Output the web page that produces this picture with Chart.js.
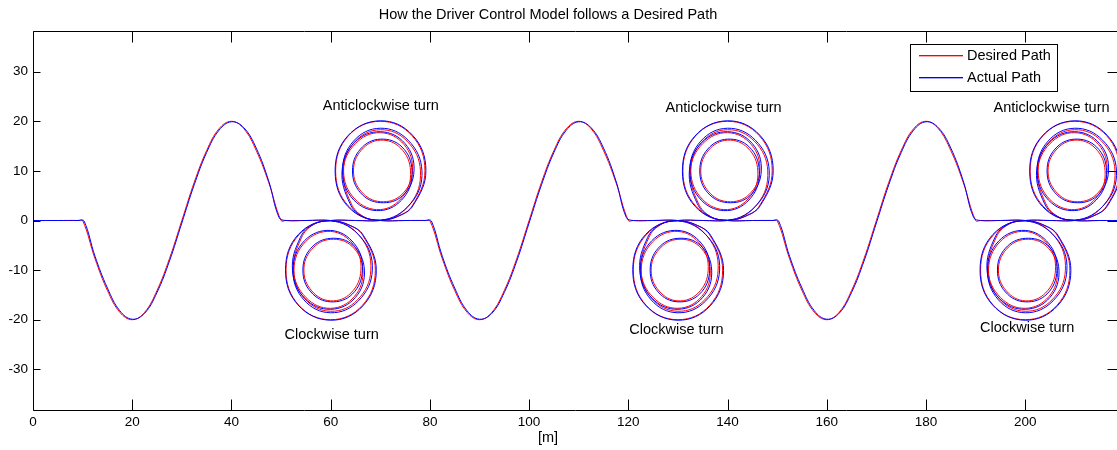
<!DOCTYPE html>
<html>
<head>
<meta charset="utf-8">
<script src="https://cdn.jsdelivr.net/npm/chart.js@4.4.1/dist/chart.umd.min.js"></script>
<style>
  html, body { margin: 0; padding: 0; background: #fff; overflow: hidden; }
  #wrap { width: 1117px; height: 450px; position: relative; }
</style>
</head>
<body>
<div id="wrap"><canvas id="pathChart"></canvas></div>
<script>
// axis ranges and ticks
const xTicks = [0, 20, 40, 60, 80, 100, 120, 140, 160, 180, 200];
const yTicks = [-30, -20, -10, 0, 10, 20, 30];
const xRange = [0, 218.5];
const yRange = [-38.2, 38.2];

// turn annotations
const turnLabels = ['Anticlockwise turn', 'Clockwise turn', 'Anticlockwise turn', 'Clockwise turn', 'Anticlockwise turn', 'Clockwise turn'];
const turnLabelX = [70.1, 60.2, 139.2, 129.7, 205.3, 200.4];
const turnLabelY = [23.1, -23.1, 22.7, -22.1, 22.7, -21.7];

// desired path [x, y] in metres
const desiredLead = [[0,0],[5,0],[9,0],[10,0]];
const desiredWave1 = [[12.5,-7.7],[15,-14.1],[17.5,-18.5],[20,-20],[22.5,-18.5],[25,-14.1],[27.5,-7.7],[30,0],[32.5,7.7],[35,14.1],[37.5,18.5],[40,20],[42.5,18.5],[45,14.1],[47.5,7.7],[50,0],[51,0],[55,0]];
const desiredTurns1 = [
  [60,0],[63.4,-0.8],
  [66.4,-2.9],[69,-10],[66.4,-17.1],[60,-20],[53.6,-17.1],[51,-10],[53.6,-2.9],[60,0],
  [66,-3.3],[68.1,-10],[65.4,-16],[60,-18.3],[54.8,-15.8],[52.6,-10],[54.9,-4.3],[60,-2.2],
  [64.6,-4.9],[66.1,-10],[64.1,-14.6],[60,-16.2],[56.2,-14.2],[54.6,-10],[56.2,-5.8],[60,-3.8],
  [64.3,-5.2],[66.5,-10],[64.8,-15.3],[60,-17.7],[55,-15.5],[52.5,-10],[54.1,-3.5],[56.6,-0.8],[60,0],
  [65,0],
  [70,0],[73.4,0.8],
  [76.4,2.9],[79,10],[76.4,17.1],[70,20],[63.6,17.1],[61,10],[63.6,2.9],[70,0],
  [76,3.3],[78.1,10],[75.4,16],[70,18.3],[64.8,15.8],[62.6,10],[64.9,4.3],[70,2.2],
  [74.6,4.9],[76.1,10],[74.1,14.6],[70,16.2],[66.2,14.2],[64.6,10],[66.2,5.8],[70,3.8],
  [74.3,5.2],[76.5,10],[74.8,15.3],[70,17.7],[65,15.5],[62.5,10],[64.1,3.5],[66.6,0.8],[70,0],
  [75,0],[79,0],[80,0]
];
const desiredWave2 = [[82.5,-7.7],[85,-14.1],[87.5,-18.5],[90,-20],[92.5,-18.5],[95,-14.1],[97.5,-7.7],[100,0],[102.5,7.7],[105,14.1],[107.5,18.5],[110,20],[112.5,18.5],[115,14.1],[117.5,7.7],[120,0],[121,0],[125,0]];
const desiredTurns2 = [
  [130,0],[133.4,-0.8],
  [136.4,-2.9],[139,-10],[136.4,-17.1],[130,-20],[123.6,-17.1],[121,-10],[123.6,-2.9],[130,0],
  [136,-3.3],[138.1,-10],[135.4,-16],[130,-18.3],[124.8,-15.8],[122.6,-10],[124.9,-4.3],[130,-2.2],
  [134.6,-4.9],[136.1,-10],[134.1,-14.6],[130,-16.2],[126.2,-14.2],[124.6,-10],[126.2,-5.8],[130,-3.8],
  [134.3,-5.2],[136.5,-10],[134.8,-15.3],[130,-17.7],[125,-15.5],[122.5,-10],[124.1,-3.5],[126.6,-0.8],[130,0],
  [135,0],
  [140,0],[143.4,0.8],
  [146.4,2.9],[149,10],[146.4,17.1],[140,20],[133.6,17.1],[131,10],[133.6,2.9],[140,0],
  [146,3.3],[148.1,10],[145.4,16],[140,18.3],[134.8,15.8],[132.6,10],[134.9,4.3],[140,2.2],
  [144.6,4.9],[146.1,10],[144.1,14.6],[140,16.2],[136.2,14.2],[134.6,10],[136.2,5.8],[140,3.8],
  [144.3,5.2],[146.5,10],[144.8,15.3],[140,17.7],[135,15.5],[132.5,10],[134.1,3.5],[136.6,0.8],[140,0],
  [145,0],[149,0],[150,0]
];
const desiredWave3 = [[152.5,-7.7],[155,-14.1],[157.5,-18.5],[160,-20],[162.5,-18.5],[165,-14.1],[167.5,-7.7],[170,0],[172.5,7.7],[175,14.1],[177.5,18.5],[180,20],[182.5,18.5],[185,14.1],[187.5,7.7],[190,0],[191,0],[195,0]];
const desiredTurns3 = [
  [200,0],[203.4,-0.8],
  [206.4,-2.9],[209,-10],[206.4,-17.1],[200,-20],[193.6,-17.1],[191,-10],[193.6,-2.9],[200,0],
  [206,-3.3],[208.1,-10],[205.4,-16],[200,-18.3],[194.8,-15.8],[192.6,-10],[194.9,-4.3],[200,-2.2],
  [204.6,-4.9],[206.1,-10],[204.1,-14.6],[200,-16.2],[196.2,-14.2],[194.6,-10],[196.2,-5.8],[200,-3.8],
  [204.3,-5.2],[206.5,-10],[204.8,-15.3],[200,-17.7],[195,-15.5],[192.5,-10],[194.1,-3.5],[196.6,-0.8],[200,0],
  [205,0],
  [210,0],[213.4,0.8],
  [216.4,2.9],[219,10],[216.4,17.1],[210,20],[203.6,17.1],[201,10],[203.6,2.9],[210,0],
  [216,3.3],[218.1,10],[215.4,16],[210,18.3],[204.8,15.8],[202.6,10],[204.9,4.3],[210,2.2],
  [214.6,4.9],[216.1,10],[214.1,14.6],[210,16.2],[206.2,14.2],[204.6,10],[206.2,5.8],[210,3.8],
  [214.3,5.2],[216.5,10],[214.8,15.3],[210,17.7],[205,15.5],[202.5,10],[204.1,3.5],[206.6,0.8],[210,0],
  [215,0],[220,0]
];

// actual path followed by the driver model
const actualLead = [[0,0],[5,0],[9.3,0],[10.3,-0.1]];
const actualWave1 = [[12.5,-7.2],[15,-13.6],[17.5,-18.2],[20,-19.9],[22.5,-18.7],[25,-14.5],[27.5,-8.2],[30,-0.5],[32.5,7.2],[35,13.7],[37.5,18.2],[40,19.9],[42.5,18.7],[45,14.6],[47.5,8],[49.6,0.6],[51,0],[55,0]];
const actualTurns1 = [
  [60,0],[63.5,-0.8],
  [66.6,-3],[69.2,-10.1],[66.5,-17.2],[60,-20.1],[53.4,-17],[50.9,-9.9],[53.5,-2.8],[60,-0.1],
  [66.2,-3.5],[68.4,-10],[65.6,-16.2],[60,-18.6],[54.6,-16],[52.4,-10],[54.7,-4.1],[60,-2],
  [64.8,-4.7],[66.4,-10],[64.4,-14.8],[60,-16.4],[56,-14.4],[54.4,-10],[56,-5.6],[60,-3.6],
  [64.5,-5],[66.8,-10],[65,-15.5],[60,-17.9],[54.8,-15.7],[52.3,-10],[53.9,-3.4],[56.5,-0.8],[60,0],
  [65,0],
  [70,0],[73.5,0.8],
  [76.6,3],[79.2,10.1],[76.5,17.2],[70,20.1],[63.4,17],[60.9,9.9],[63.5,2.8],[70,0.1],
  [76.2,3.5],[78.4,10],[75.6,16.2],[70,18.6],[64.6,16],[62.4,10],[64.7,4.1],[70,2],
  [74.8,4.7],[76.4,10],[74.4,14.8],[70,16.4],[66,14.4],[64.4,10],[66,5.6],[70,3.6],
  [74.5,5],[76.8,10],[75,15.5],[70,17.9],[64.8,15.7],[62.3,10],[63.9,3.4],[66.5,0.8],[70,0],
  [75,0],[79.3,0],[80.3,-0.1]
];
const actualWave2 = [[82.5,-7.2],[85,-13.6],[87.5,-18.2],[90,-19.9],[92.5,-18.7],[95,-14.5],[97.5,-8.2],[100,-0.5],[102.5,7.2],[105,13.7],[107.5,18.2],[110,19.9],[112.5,18.7],[115,14.6],[117.5,8],[119.6,0.6],[121,0],[125,0]];
const actualTurns2 = [
  [130,0],[133.5,-0.8],
  [136.6,-3],[139.2,-10.1],[136.5,-17.2],[130,-20.1],[123.4,-17],[120.9,-9.9],[123.5,-2.8],[130,-0.1],
  [136.2,-3.5],[138.4,-10],[135.6,-16.2],[130,-18.6],[124.6,-16],[122.4,-10],[124.7,-4.1],[130,-2],
  [134.8,-4.7],[136.4,-10],[134.4,-14.8],[130,-16.4],[126,-14.4],[124.4,-10],[126,-5.6],[130,-3.6],
  [134.5,-5],[136.8,-10],[135,-15.5],[130,-17.9],[124.8,-15.7],[122.3,-10],[123.9,-3.4],[126.5,-0.8],[130,0],
  [135,0],
  [140,0],[143.5,0.8],
  [146.6,3],[149.2,10.1],[146.5,17.2],[140,20.1],[133.4,17],[130.9,9.9],[133.5,2.8],[140,0.1],
  [146.2,3.5],[148.4,10],[145.6,16.2],[140,18.6],[134.6,16],[132.4,10],[134.7,4.1],[140,2],
  [144.8,4.7],[146.4,10],[144.4,14.8],[140,16.4],[136,14.4],[134.4,10],[136,5.6],[140,3.6],
  [144.5,5],[146.8,10],[145,15.5],[140,17.9],[134.8,15.7],[132.3,10],[133.9,3.4],[136.5,0.8],[140,0],
  [145,0],[149.3,0],[150.3,-0.1]
];
const actualWave3 = [[152.5,-7.2],[155,-13.6],[157.5,-18.2],[160,-19.9],[162.5,-18.7],[165,-14.5],[167.5,-8.2],[170,-0.5],[172.5,7.2],[175,13.7],[177.5,18.2],[180,19.9],[182.5,18.7],[185,14.6],[187.5,8],[189.6,0.6],[191,0],[195,0]];
const actualTurns3 = [
  [200,0],[203.5,-0.8],
  [206.6,-3],[209.2,-10.1],[206.5,-17.2],[200,-20.1],[193.4,-17],[190.9,-9.9],[193.5,-2.8],[200,-0.1],
  [206.2,-3.5],[208.4,-10],[205.6,-16.2],[200,-18.6],[194.6,-16],[192.4,-10],[194.7,-4.1],[200,-2],
  [204.8,-4.7],[206.4,-10],[204.4,-14.8],[200,-16.4],[196,-14.4],[194.4,-10],[196,-5.6],[200,-3.6],
  [204.5,-5],[206.8,-10],[205,-15.5],[200,-17.9],[194.8,-15.7],[192.3,-10],[193.9,-3.4],[196.5,-0.8],[200,0],
  [205,0],
  [210,0],[213.5,0.8],
  [216.6,3],[219.2,10.1],[216.5,17.2],[210,20.1],[203.4,17],[200.9,9.9],[203.5,2.8],[210,0.1],
  [216.2,3.5],[218.4,10],[215.6,16.2],[210,18.6],[204.6,16],[202.4,10],[204.7,4.1],[210,2],
  [214.8,4.7],[216.4,10],[214.4,14.8],[210,16.4],[206,14.4],[204.4,10],[206,5.6],[210,3.6],
  [214.5,5],[216.8,10],[215,15.5],[210,17.9],[204.8,15.7],[202.3,10],[203.9,3.4],[206.5,0.8],[210,0],
  [215,0],[220,0]
];

const seriesNames = ['Desired Path', 'Actual Path'];
const seriesColors = ['#ff0000', '#0000ff'];

function toPoints(parts) {
    return [].concat(...parts).map(p => ({ x: p[0], y: p[1] }));
}

const desiredPath = toPoints([desiredLead, desiredWave1, desiredTurns1, desiredWave2, desiredTurns2, desiredWave3, desiredTurns3]);
const actualPath = toPoints([actualLead, actualWave1, actualTurns1, actualWave2, actualTurns2, actualWave3, actualTurns3]);

const FONT = '"Liberation Sans", Arial, sans-serif';

// matlab style frame, inward ticks, title, labels and legend
const matlabFrame = {
    id: 'matlabFrame',
    afterDraw(chart) {
        const ctx = chart.ctx;
        const a = chart.chartArea;
        const xs = chart.scales.x, ys = chart.scales.y;
        const L = Math.round(a.left) + 0.5, T = Math.round(a.top) + 0.5;
        const B = Math.round(a.bottom) + 0.5, R = Math.round(a.right) + 0.5;
        ctx.save();
        ctx.strokeStyle = '#000';
        ctx.lineWidth = 1;
        ctx.beginPath();
        ctx.moveTo(R, T); ctx.lineTo(L, T); ctx.lineTo(L, B); ctx.lineTo(R, B); ctx.lineTo(R, T);
        xTicks.forEach(v => {
            const px = Math.round(xs.getPixelForValue(v)) + 0.5;
            ctx.moveTo(px, B); ctx.lineTo(px, B - 11);
            ctx.moveTo(px, T); ctx.lineTo(px, T + 11);
        });
        yTicks.forEach(v => {
            const py = Math.round(ys.getPixelForValue(v)) + 0.5;
            ctx.moveTo(L, py); ctx.lineTo(L + 7, py);
            ctx.moveTo(R, py); ctx.lineTo(R - 10, py);
        });
        ctx.stroke();

        ctx.fillStyle = '#000';
        ctx.font = '14.5px ' + FONT;
        ctx.textAlign = 'center';
        ctx.textBaseline = 'middle';
        ctx.fillText('How the Driver Control Model follows a Desired Path', 548, 15);
        ctx.fillText('[m]', 548, 438);
        turnLabels.forEach((t, i) => {
            ctx.fillText(t, xs.getPixelForValue(turnLabelX[i]), ys.getPixelForValue(turnLabelY[i]));
        });

        // legend box
        ctx.fillStyle = '#fff';
        ctx.fillRect(910.5, 44.5, 147, 47);
        ctx.strokeRect(910.5, 44.5, 147, 47);
        ctx.textAlign = 'left';
        seriesNames.forEach((n, i) => {
            const ly = 55 + i * 22;
            ctx.fillStyle = seriesColors[i];
            ctx.fillRect(919, ly, 44, 1);
            ctx.globalAlpha = 0.35;
            ctx.fillRect(919, ly + 1, 44, 1);
            ctx.globalAlpha = 1;
            ctx.fillStyle = '#000';
            ctx.fillText(n, 967, ly + 1);
        });
        ctx.restore();
    }
};

new Chart(document.getElementById('pathChart'), {
    type: 'scatter',
    data: {
        datasets: [
            {
                label: seriesNames[0],
                data: desiredPath,
                showLine: true,
                borderColor: seriesColors[0],
                borderWidth: 1,
                pointRadius: 0,
                tension: 0.4,
                order: 1
            },
            {
                label: seriesNames[1],
                data: actualPath,
                showLine: true,
                borderColor: seriesColors[1],
                borderWidth: 1,
                pointRadius: 0,
                tension: 0.4,
                order: 0
            }
        ]
    },
    options: {
        responsive: true,
        maintainAspectRatio: false,
        animation: false,
        layout: { padding: { top: 31, right: 0, bottom: 0, left: 0 } },
        plugins: {
            legend: { display: false },
            tooltip: { enabled: false },
            title: { display: false }
        },
        scales: {
            x: {
                type: 'linear',
                min: xRange[0],
                max: xRange[1],
                afterBuildTicks: s => { s.ticks = xTicks.map(v => ({ value: v })); },
                afterFit: s => { s.height = 40; },
                grid: { display: false, drawTicks: false },
                border: { display: false },
                ticks: {
                    color: '#000',
                    font: { family: FONT, size: 13.5 },
                    padding: 4,
                    autoSkip: false,
                    maxRotation: 0
                }
            },
            y: {
                type: 'linear',
                min: yRange[0],
                max: yRange[1],
                afterBuildTicks: s => { s.ticks = yTicks.map(v => ({ value: v })); },
                afterFit: s => { s.width = 33; },
                grid: { display: false, drawTicks: false },
                border: { display: false },
                ticks: {
                    color: '#000',
                    font: { family: FONT, size: 13.5 },
                    padding: 5,
                    autoSkip: false
                }
            }
        }
    },
    plugins: [matlabFrame]
});
</script>
</body>
</html>
